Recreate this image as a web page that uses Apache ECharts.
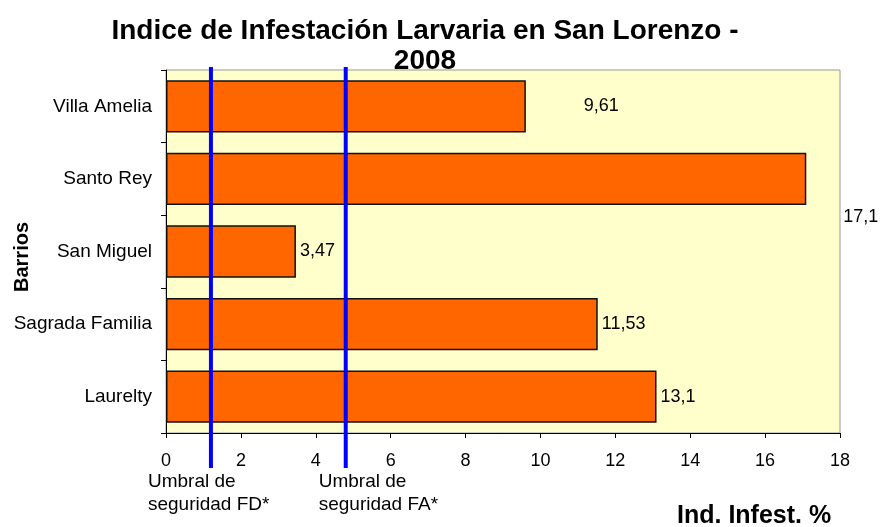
<!DOCTYPE html>
<html>
<head>
<meta charset="utf-8">
<script src="https://cdn.jsdelivr.net/npm/echarts@6/dist/echarts.min.js"></script>
<style>
  html, body { margin: 0; padding: 0; background: #fff; }
  #chart { width: 880px; height: 527px; }
</style>
</head>
<body>
<div id="chart"></div>
<script>
// datos del grafico
const barrios = ["Villa Amelia", "Santo Rey", "San Miguel", "Sagrada Familia", "Laurelty"];
const indices = [9.61, 17.1, 3.47, 11.53, 13.1];
const umbralNombres = ["Umbral de\nseguridad FD*", "Umbral de\nseguridad FA*"];
const umbralValores = [1.2, 4.8];

// desplazamiento de etiquetas como en la hoja original
const labelShift = [[54, 0], [33, 38], [0, 0], [0, 0], [0, 0]];
const umbralTextoDx = [-63, -27];

const FONT = "Liberation Sans, Arial, sans-serif";
const myChart = echarts.init(document.getElementById("chart"));

const option = {
  backgroundColor: "#fff",
  animation: false,
  textStyle: { fontFamily: FONT },
  title: {
    text: "Indice de Infestación Larvaria en San Lorenzo -\n2008",
    left: 420,
    textAlign: "center",
    top: 11,
    textStyle: {
      fontSize: 28,
      fontWeight: "bold",
      color: "#000",
      lineHeight: 30,
      fontFamily: FONT
    }
  },
  graphic: [
    {
      type: "text",
      left: 677,
      top: 504,
      style: {
        text: "Ind. Infest. %",
        font: "bold 25px " + FONT,
        fill: "#000"
      }
    },
    {
      type: "text",
      x: 12,
      y: 292,
      rotation: Math.PI / 2,
      style: {
        text: "Barrios",
        font: "bold 20px " + FONT,
        fill: "#000"
      }
    }
  ],
  grid: {
    left: 166,
    right: 40,
    top: 70,
    bottom: 94,
    show: true,
    backgroundColor: "#FFFFCC",
    borderColor: "#999",
    borderWidth: 1
  },
  xAxis: {
    type: "value",
    min: 0,
    max: 18,
    interval: 2,
    axisLine: { show: true, lineStyle: { color: "#000", width: 1 } },
    axisTick: { show: true, length: 5, lineStyle: { color: "#000" } },
    splitLine: { show: false },
    axisLabel: { color: "#000", fontSize: 18, margin: 19 }
  },
  yAxis: {
    type: "category",
    inverse: true,
    data: barrios,
    axisLine: { show: true, lineStyle: { color: "#000", width: 1 } },
    axisTick: { show: true, length: 5, lineStyle: { color: "#000" } },
    axisLabel: { color: "#000", fontSize: 19, margin: 14 }
  },
  series: [
    {
      name: "Indice",
      type: "bar",
      barCategoryGap: "28%",
      itemStyle: {
        color: "#FF6600",
        borderColor: "#111",
        borderWidth: 1.5
      },
      label: {
        show: true,
        position: "right",
        distance: 4,
        color: "#000",
        fontSize: 18,
        formatter: p => String(p.value).replace(".", ",")
      },
      data: indices.map((v, i) => ({ value: v, label: { offset: labelShift[i] } }))
    },
    {
      name: "Umbrales",
      type: "custom",
      clip: false,
      z: 5,
      data: umbralValores.map((v, i) => [v, i]),
      renderItem: (params, api) => {
        const x = api.coord([api.value(0), 0])[0];
        const cs = params.coordSys;
        const i = api.value(1);
        return {
          type: "group",
          children: [
            {
              type: "line",
              shape: { x1: x, y1: cs.y - 3, x2: x, y2: cs.y + cs.height + 35 },
              style: { stroke: "#0000FF", lineWidth: 4 }
            },
            {
              type: "text",
              x: x + umbralTextoDx[i],
              y: cs.y + cs.height + 37,
              style: {
                text: umbralNombres[i],
                font: "19px " + FONT,
                fill: "#000",
                lineHeight: 23
              }
            }
          ]
        };
      }
    }
  ]
};

myChart.setOption(option);
</script>
</body>
</html>
